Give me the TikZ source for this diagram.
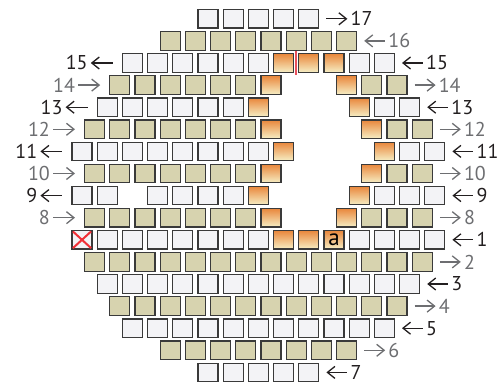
\documentclass[tikz,border=0pt]{standalone}
\usepackage{fontspec}
\setmainfont{PT Sans}
\usetikzlibrary{arrows.meta, positioning, calc}

\definecolor{beadwhite}{HTML}{F3F3F6}
\definecolor{beadtan}{HTML}{D7D3AF}
\definecolor{beadedge}{HTML}{3A3A3A}
\definecolor{holetop}{HTML}{E9873C}
\definecolor{holebot}{HTML}{F6EEC4}
\definecolor{labeldark}{HTML}{231F20}
\definecolor{labelgray}{HTML}{6D6E71}
\definecolor{cutred}{HTML}{E8505B}

% beads of one row: #1 row, #2 level from top, #3 x of index 0, #4 style, #5 indices
\newcommand{\beads}[5]{\foreach \k in {#5} {\node[#4] (b#1-\k) at ({#3+25.2*\k},{-18.8-22.1*#2}) {};}}
% row number right of the row: #1 row, #2 last bead, #3 colour, #4 arrow
\newcommand{\tagright}[4]{%
  \coordinate (r#1a) at ([xshift=7pt]b#1-#2.east);
  \node[lbl, #3, right=21pt of r#1a] (r#1) {#1};
  \draw[arr, #3, #4] (r#1a) -- (r#1.west);}
% row number left of the row
\newcommand{\tagleft}[4]{%
  \coordinate (l#1a) at ([xshift=-9pt]b#1-#2.west);
  \node[lbl, #3, left=22pt of l#1a] (l#1) {#1};
  \draw[arr, #3, #4] (l#1.east) -- (l#1a);}

\begin{document}
\begin{tikzpicture}[
    x=1pt, y=1pt,
    bead/.style={rectangle, draw=beadedge, line width=1.2pt, minimum width=20pt, minimum height=18.5pt, inner sep=0pt},
    wbead/.style={bead, fill=beadwhite},
    tbead/.style={bead, fill=beadtan},
    obead/.style={bead, top color=holetop, bottom color=holebot},
    lbl/.style={inner xsep=3pt, inner ysep=0.5pt, font=\fontsize{20}{20}\selectfont},
    dk/.style={color=labeldark},
    gy/.style={color=labelgray},
    arr/.style={line width=1.3pt, >={Straight Barb[length=7.5pt, width=12pt]}}
]
\useasboundingbox (0,0) rectangle (499,-382);

% ---- bovenste rijen (boven de opening) ----
\beads{17}{0}{82}{wbead}{5,...,9}
\beads{16}{1}{94.6}{tbead}{3,...,10}
\beads{15}{2}{82}{wbead}{2,...,7,11,12}
\beads{15}{2}{82}{obead}{8,9,10}
\beads{14}{3}{94.6}{tbead}{1,...,6,11,12}
\beads{14}{3}{94.6}{obead}{7,10}
\beads{13}{4}{82}{wbead}{1,...,6,12,13}
\beads{13}{4}{82}{obead}{7,11}
\beads{12}{5}{94.6}{tbead}{0,...,6,12,13}
\beads{12}{5}{94.6}{obead}{7,11}
\beads{11}{6}{82}{wbead}{0,...,7,13,14}
\beads{11}{6}{82}{obead}{8,12}
\beads{10}{7}{94.6}{tbead}{0,...,6,12,13}
\beads{10}{7}{94.6}{obead}{7,11}
\beads{9}{8}{82}{wbead}{0,1,3,4,5,6,12,13,14}
\beads{9}{8}{82}{obead}{7,11}
\beads{8}{9}{94.6}{tbead}{0,...,6,11,12,13}
\beads{8}{9}{94.6}{obead}{7,10}

% ---- startrij en onderste rijen ----
\beads{1}{10}{82}{wbead}{0,...,7,11,12,13,14}
\beads{1}{10}{82}{obead}{8,9,10}
\beads{2}{11}{94.6}{tbead}{0,...,13}
\beads{3}{12}{82}{wbead}{1,...,13}
\beads{4}{13}{94.6}{tbead}{1,...,12}
\beads{5}{14}{82}{wbead}{2,...,12}
\beads{6}{15}{94.6}{tbead}{3,...,10}
\beads{7}{16}{82}{wbead}{5,...,9}

% ---- kruisje, letter a en de knip ----
\draw[cutred!60!red, line width=2pt] ([shift={(1.5pt,-1.5pt)}]b1-0.north west) -- ([shift={(-1.5pt,1.5pt)}]b1-0.south east);
\draw[cutred!60!red, line width=2pt] ([shift={(-1.5pt,-1.5pt)}]b1-0.north east) -- ([shift={(1.5pt,1.5pt)}]b1-0.south west);
\node[font=\fontsize{23}{23}\selectfont, text=black, inner sep=0pt] (aletter) at (b1-10) {a};
\coordinate (cuttop) at ($(b15-8.north east)!.5!(b15-9.north west) + (0,2)$);
\coordinate (cutbot) at ($(b15-8.south east)!.5!(b15-9.south west) + (0,-2)$);
\draw[cutred, line width=2pt] (cuttop) -- (cutbot);

% ---- rijnummers rechts ----
\tagright{17}{9}{dk}{->}
\tagright{16}{10}{gy}{<-}
\tagright{15}{12}{dk}{<-}
\tagright{14}{12}{gy}{->}
\tagright{13}{13}{dk}{<-}
\tagright{12}{13}{gy}{->}
\tagright{11}{14}{dk}{<-}
\tagright{10}{13}{gy}{->}
\tagright{9}{14}{dk}{<-}
\tagright{8}{13}{gy}{->}
\tagright{1}{14}{dk}{<-}
\tagright{2}{13}{gy}{->}
\tagright{3}{13}{dk}{<-}
\tagright{4}{12}{gy}{->}
\tagright{5}{12}{dk}{<-}
\tagright{6}{10}{gy}{->}
\tagright{7}{9}{dk}{<-}

% ---- rijnummers links ----
\tagleft{15}{2}{dk}{<-}
\tagleft{14}{1}{gy}{->}
\tagleft{13}{1}{dk}{<-}
\tagleft{12}{0}{gy}{->}
\tagleft{11}{0}{dk}{<-}
\tagleft{10}{0}{gy}{->}
\tagleft{9}{0}{dk}{<-}
\tagleft{8}{0}{gy}{->}

\end{tikzpicture}
\end{document}
